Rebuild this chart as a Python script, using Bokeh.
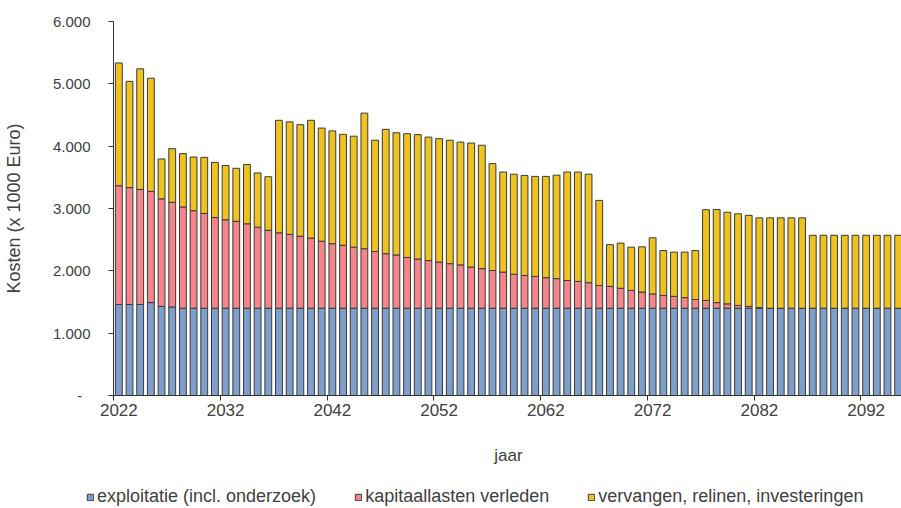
from bokeh.plotting import figure
from bokeh.models import Range1d, FixedTicker, Legend, LegendItem, ColumnDataSource
from bokeh.embed import file_html
from bokeh.resources import INLINE

years = list(range(2022, 2096))

exploitatie = [1460, 1460, 1460, 1490, 1430, 1420, 1400, 1400, 1400, 1400,
               1400, 1400, 1400, 1400, 1400, 1400, 1400, 1400, 1400, 1400,
               1400, 1400, 1400, 1400, 1400, 1400, 1400, 1400, 1400, 1400,
               1400, 1400, 1400, 1400, 1400, 1400, 1400, 1400, 1400, 1400,
               1400, 1400, 1400, 1400, 1400, 1400, 1400, 1400, 1400, 1400,
               1400, 1400, 1400, 1400, 1400, 1400, 1400, 1400, 1400, 1400,
               1400, 1400, 1400, 1400, 1400, 1400, 1400, 1400, 1400, 1400,
               1400, 1400, 1400, 1400]

kapitaallasten = [1905, 1875, 1845, 1785, 1725, 1680, 1625, 1565, 1520, 1455,
                  1420, 1395, 1355, 1300, 1250, 1210, 1185, 1155, 1125, 1075,
                  1035, 1010, 980, 955, 910, 875, 855, 815, 790, 765,
                  740, 715, 695, 660, 635, 605, 580, 545, 525, 510,
                  490, 475, 445, 430, 410, 365, 350, 320, 285, 260,
                  230, 205, 190, 170, 140, 125, 90, 70, 45, 30,
                  10, 0, 0, 0, 0, 0, 0, 0, 0, 0,
                  0, 0, 0, 0]

vervangen = [1970, 1705, 1935, 1815, 640, 860, 855, 860, 900, 885,
             870, 850, 950, 870, 860, 1805, 1805, 1790, 1890, 1815,
             1810, 1780, 1780, 2175, 1785, 1995, 1960, 1985, 1995, 1980,
             1980, 1980, 1970, 1990, 1980, 1715, 1605, 1605, 1605, 1605,
             1625, 1660, 1740, 1755, 1740, 1365, 670, 725, 695, 725,
             900, 720, 710, 730, 785, 1455, 1495, 1470, 1470, 1460,
             1440, 1450, 1450, 1450, 1450, 1170, 1170, 1170, 1170, 1170,
             1170, 1170, 1170, 1170]

series_labels = ["exploitatie (incl. onderzoek)", "kapitaallasten verleden",
                 "vervangen, relinen, investeringen"]
year_labels = [2022, 2032, 2042, 2052, 2062, 2072, 2082, 2092]
y_ticks = [0, 1000, 2000, 3000, 4000, 5000, 6000]
y_tick_labels = ["-\u00a0\u00a0", "1.000", "2.000", "3.000", "4.000", "5.000", "6.000"]

colors = ["#7e9fcc", "#f4868a", "#eec21f"]
OUTLINE = "#3a3a3a"
FONT = "Liberation Sans"
TXT = "#404040"
stack_cols = ["exploitatie", "kapitaallasten", "vervangen"]

source = ColumnDataSource(dict(jaar=years, exploitatie=exploitatie,
                               kapitaallasten=kapitaallasten, vervangen=vervangen))

p = figure(frame_width=790, frame_height=374, output_backend="svg", toolbar_location=None,
           x_range=Range1d(years[0] - 0.5, years[-1] + 0.5),
           y_range=Range1d(0, 6000),
           min_border_left=111, min_border_right=0, min_border_top=21,
           min_border_bottom=75)
p.outline_line_color = None
p.xgrid.visible = False
p.ygrid.visible = False

p.vbar_stack(stack_cols, x="jaar", width=0.64, color=colors, line_color=OUTLINE,
             line_width=1, source=source)

# x axis: labels centred on categories, tick marks at category boundaries
xa = p.xaxis[0]
xa.ticker = FixedTicker(ticks=year_labels, minor_ticks=[y - 0.5 for y in year_labels])
xa.major_tick_line_color = None
xa.major_tick_out = 5
xa.major_tick_in = 0
xa.minor_tick_line_color = "#303030"
xa.minor_tick_out = 5
xa.minor_tick_in = 0
xa.major_label_standoff = 3
xa.axis_line_color = "#303030"
xa.major_label_text_font = FONT
xa.major_label_text_font_size = "17px"
xa.major_label_text_color = TXT
xa.axis_label = "jaar"
xa.axis_label_text_font = FONT
xa.axis_label_text_font_size = "17px"
xa.axis_label_text_font_style = "normal"
xa.axis_label_text_color = TXT
xa.axis_label_standoff = 27

ya = p.yaxis[0]
ya.ticker = FixedTicker(ticks=y_ticks)
ya.major_label_overrides = {t: l for t, l in zip(y_ticks, y_tick_labels)}
ya.major_label_text_font = FONT
ya.major_label_text_font_size = "15px"
ya.major_label_text_color = TXT
ya.major_tick_out = 5
ya.major_tick_in = 0
ya.minor_tick_line_color = None
ya.major_label_standoff = 18
ya.axis_line_color = "#303030"
ya.major_tick_line_color = "#303030"
ya.axis_label = "Kosten (x 1000 Euro)"
ya.axis_label_text_font = FONT
ya.axis_label_text_font_size = "18px"
ya.axis_label_text_font_style = "normal"
ya.axis_label_text_color = TXT
ya.axis_label_standoff = 26

# legend strip below the chart (its stacked bars lie outside its visible range)
p2 = figure(width=901, height=38, output_backend="svg", toolbar_location=None,
            x_range=Range1d(0, 1), y_range=Range1d(0, 1),
            x_axis_type=None, y_axis_type=None,
            min_border_left=0, min_border_right=0, min_border_top=0, min_border_bottom=0)
p2.outline_line_color = None
p2.xgrid.visible = False
p2.ygrid.visible = False
legend_renderers = p2.vbar_stack(stack_cols, x="jaar", width=0.64, color=colors,
                                 line_color=OUTLINE, line_width=1, source=source)

legend = Legend(items=[LegendItem(label=l, renderers=[r])
                       for l, r in zip(series_labels, legend_renderers)],
                orientation="horizontal", location=(86, 1))
legend.label_text_font = FONT
legend.label_text_font_size = "18px"
legend.label_text_color = TXT
legend.glyph_width = 8
legend.glyph_height = 8
legend.label_standoff = 3
legend.spacing = 38
legend.padding = 0
legend.margin = 0
legend.border_line_color = None
legend.background_fill_alpha = 0
p2.add_layout(legend, "center")

open("out.html", "w").write(file_html([p, p2], INLINE))
